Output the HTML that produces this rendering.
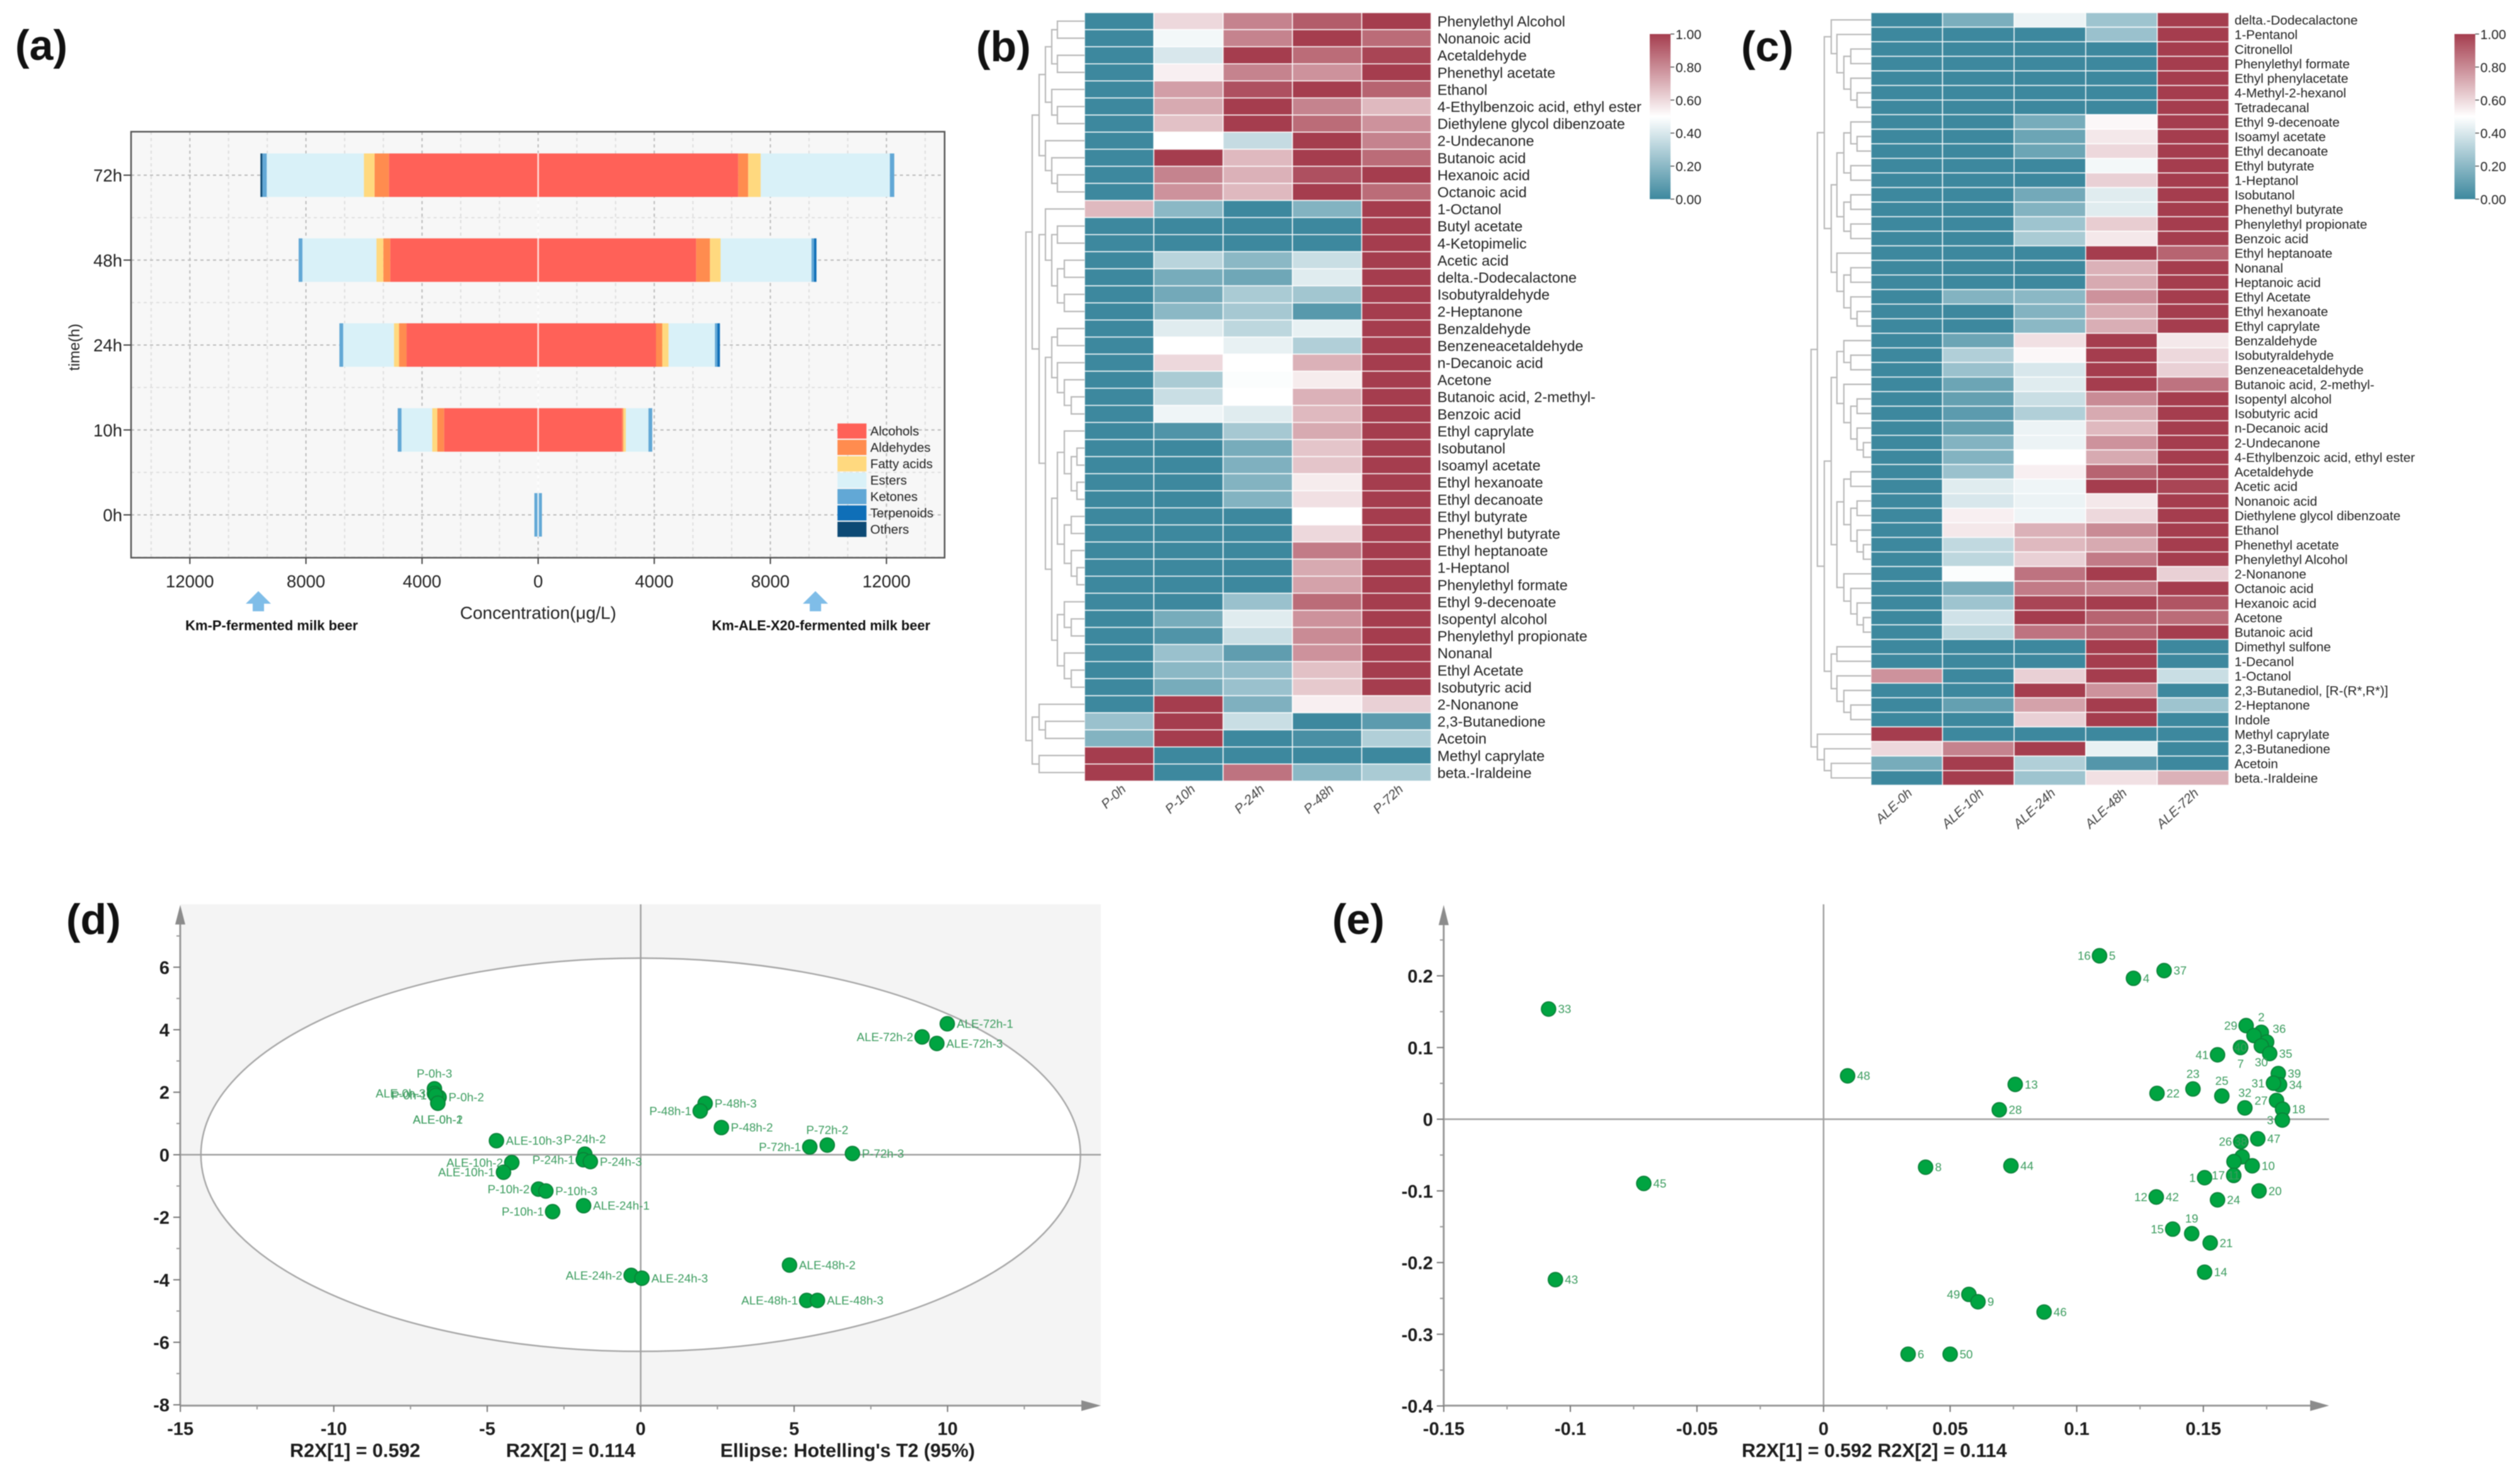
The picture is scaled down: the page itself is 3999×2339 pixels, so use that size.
<!DOCTYPE html>
<html lang="en"><head><meta charset="utf-8"><title>Volatile compounds figure</title>
<style>
html,body{margin:0;padding:0;background:#fff}
svg{display:block;font-family:"Liberation Sans",sans-serif;filter:blur(0.8px)}
.plab{font-weight:bold;font-size:68px;fill:#111}
.bt{font-weight:bold;font-size:30.4px;fill:#1c1c1c}
</style></head><body>
<svg id="fig" xmlns="http://www.w3.org/2000/svg" width="3999" height="2339" viewBox="0 0 3999 2339">
<defs><linearGradient id="cbGrad" x1="0" y1="1" x2="0" y2="0"><stop offset="0" stop-color="#3d889e"/><stop offset="0.5" stop-color="#ffffff"/><stop offset="1" stop-color="#a53d4e"/></linearGradient></defs>
<rect width="3999" height="2339" fill="#fff"/>
<text class="plab" x="24" y="95">(a)</text>
<text class="plab" x="1549" y="97">(b)</text>
<text class="plab" x="2763" y="97">(c)</text>
<text class="plab" x="105" y="1482">(d)</text>
<text class="plab" x="2114" y="1482">(e)</text>

<g id="panelA">
<rect x="208" y="209" width="1291" height="676" fill="#f7f7f7"/>
<g id="aGrid"></g>
<g id="aBars"></g>
<rect x="208" y="209" width="1291" height="676" fill="none" stroke="#555" stroke-width="2.5"/>
<g id="aAxes"></g>
<g id="aLegend"></g>
<text x="854" y="982" font-size="28" text-anchor="middle" fill="#222">Concentration(μg/L)</text>
<text transform="translate(126,551) rotate(-90)" font-size="24" text-anchor="middle" fill="#222">time(h)</text>
<polygon points="410,938 430,958 419,958 419,970 401,970 401,958 390,958" fill="#7fbde8"/>
<polygon points="1294,938 1314,958 1303,958 1303,970 1285,970 1285,958 1274,958" fill="#7fbde8"/>
<text x="431" y="1000" font-size="22" font-weight="bold" text-anchor="middle" fill="#111">Km-P-fermented milk beer</text>
<text x="1303" y="1000" font-size="21.8" font-weight="bold" text-anchor="middle" fill="#111">Km-ALE-X20-fermented milk beer</text>
</g>

<g id="panelB"></g>
<g id="panelC"></g>

<g id="panelD">
<rect x="286" y="1435" width="1461" height="796" fill="#f4f4f4"/>
<g id="dPlot"></g>
<polygon points="278,1467 286,1436 294,1467" fill="#8c8c8c"/>
<polygon points="1716,2222 1747,2230.5 1716,2239" fill="#8c8c8c"/>
<text class="bt" x="460" y="2312">R2X[1] = 0.592</text>
<text class="bt" x="803" y="2312">R2X[2] = 0.114</text>
<text class="bt" x="1143" y="2312">Ellipse: Hotelling's T2 (95%)</text>
</g>

<g id="panelE">
<g id="ePlot"></g>
<polygon points="2283,1468 2291,1436 2299,1468" fill="#8c8c8c"/>
<polygon points="3666,2222 3696,2230.5 3666,2239" fill="#8c8c8c"/>
<text class="bt" x="2764" y="2312">R2X[1] = 0.592 R2X[2] = 0.114</text>
</g>
</svg>
<script>
/* ---------- panel a data ---------- */
const aCategories=['72h','48h','24h','10h','0h'];
const aLegendNames=['Alcohols','Aldehydes','Fatty acids','Esters','Ketones','Terpenoids','Others'];
const aTickValues=[-12000,-8000,-4000,0,4000,8000,12000];
const aMinorValues=[-13333,-10667,-9333,-6667,-5333,-2667,-1333,1333,2667,5333,6667,9333,10667,13333];
const pAlcohols=[5140,5097,4536,3240,0];
const pAldehydes=[497,238,259,238,0];
const pFattyAcids=[367,238,173,173,0];
const pEsters=[3348,2549,1750,1058,0];
const pKetones=[151,130,130,130,130];
const pTerpenoids=[0,0,0,0,0];
const pOthers=[65,0,0,0,0];
const aleAlcohols=[6890,5443,4060,2894,0];
const aleAldehydes=[346,475,216,43,0];
const aleFattyAcids=[432,367,216,86,0];
const aleEsters=[4450,3132,1598,778,0];
const aleKetones=[151,86,86,130,130];
const aleTerpenoids=[0,86,86,0,0];
const aleOthers=[0,0,0,0,0];

/* ---------- panel b data ---------- */
const bColumns=['P-0h','P-10h','P-24h','P-48h','P-72h'];
const bCompounds=['Phenylethyl Alcohol','Nonanoic acid','Acetaldehyde','Phenethyl acetate','Ethanol','4-Ethylbenzoic acid, ethyl ester','Diethylene glycol dibenzoate','2-Undecanone','Butanoic acid','Hexanoic acid','Octanoic acid','1-Octanol','Butyl acetate','4-Ketopimelic','Acetic acid','delta.-Dodecalactone','Isobutyraldehyde','2-Heptanone','Benzaldehyde','Benzeneacetaldehyde','n-Decanoic acid','Acetone','Butanoic acid, 2-methyl-','Benzoic acid','Ethyl caprylate','Isobutanol','Isoamyl acetate','Ethyl hexanoate','Ethyl decanoate','Ethyl butyrate','Phenethyl butyrate','Ethyl heptanoate','1-Heptanol','Phenylethyl formate','Ethyl 9-decenoate','Isopentyl alcohol','Phenylethyl propionate','Nonanal','Ethyl Acetate','Isobutyric acid','2-Nonanone','2,3-Butanedione','Acetoin','Methyl caprylate','beta.-Iraldeine'];
const bValues=[[0,.6,.82,.92,1],[0,.47,.82,1,.88],[0,.4,1,.88,.98],[0,.54,.82,.78,1],[0,.75,.95,1,.9],[0,.72,1,.82,.68],[0,.66,1,.88,.78],[0,.5,.35,1,.82],[0,1,.68,1,.88],[0,.82,.7,.95,1],[0,.78,.68,1,.88],[.68,.2,0,.18,1],[0,0,0,0,1],[0,0,0,0,1],[0,.32,.2,.36,1],[0,.15,.13,.42,1],[0,.14,.28,.26,1],[0,.2,.27,.07,1],[0,.42,.33,.44,1],[0,.5,.44,.3,1],[0,.6,.5,.7,1],[0,.28,.49,.55,1],[0,.36,.5,.7,1],[0,.46,.42,.68,1],[0,.05,.27,.72,1],[0,0,.15,.65,1],[0,0,.17,.65,1],[0,0,.18,.55,1],[0,0,.18,.58,1],[0,0,0,.5,1],[0,0,0,.6,1],[0,0,0,.84,1],[0,0,0,.72,1],[0,0,0,.74,1],[0,0,.24,.88,1],[0,.15,.42,.78,1],[0,.05,.36,.8,1],[0,.24,.09,.78,1],[0,.2,.22,.66,1],[0,.15,.24,.64,1],[0,1,.17,.54,.62],[.24,1,.36,0,.08],[.18,1,0,.03,.3],[1,0,0,0,0],[1,0,.86,.2,.28]];
/* merge distance tree: [distance, child, child]; 0 is a leaf taken in row order */
const bTree=[93,[83,[72,[62,[52,[43,0,0],[43,0,0]],[52,0,[43,0,0]]],[62,0,[52,0,[43,0,0]]]],[72,[62,0,[52,[43,0,0],[43,[32,0,0],[32,0,0]]]],[62,[52,[43,0,0],[43,0,[32,0,[21,0,0]]]],[52,[43,[32,0,[21,[12,0,0],[12,0,0]]],[32,[21,0,0],[21,0,[12,0,0]]]],[43,[32,0,[21,0,0]],[32,0,[21,0,0]]]]]]],[83,[72,0,[62,0,0]],[72,0,0]]];

/* ---------- panel c data ---------- */
const cColumns=['ALE-0h','ALE-10h','ALE-24h','ALE-48h','ALE-72h'];
const cCompounds=['delta.-Dodecalactone','1-Pentanol','Citronellol','Phenylethyl formate','Ethyl phenylacetate','4-Methyl-2-hexanol','Tetradecanal','Ethyl 9-decenoate','Isoamyl acetate','Ethyl decanoate','Ethyl butyrate','1-Heptanol','Isobutanol','Phenethyl butyrate','Phenylethyl propionate','Benzoic acid','Ethyl heptanoate','Nonanal','Heptanoic acid','Ethyl Acetate','Ethyl hexanoate','Ethyl caprylate','Benzaldehyde','Isobutyraldehyde','Benzeneacetaldehyde','Butanoic acid, 2-methyl-','Isopentyl alcohol','Isobutyric acid','n-Decanoic acid','2-Undecanone','4-Ethylbenzoic acid, ethyl ester','Acetaldehyde','Acetic acid','Nonanoic acid','Diethylene glycol dibenzoate','Ethanol','Phenethyl acetate','Phenylethyl Alcohol','2-Nonanone','Octanoic acid','Hexanoic acid','Acetone','Butanoic acid','Dimethyl sulfone','1-Decanol','1-Octanol','2,3-Butanediol, [R-(R*,R*)]','2-Heptanone','Indole','Methyl caprylate','2,3-Butanedione','Acetoin','beta.-Iraldeine'];
const cValues=[[0,.16,.45,.25,1],[0,0,0,.24,1],[0,0,0,0,1],[0,0,0,0,1],[0,0,0,0,1],[0,0,0,0,1],[0,0,0,0,1],[0,0,.15,.52,1],[0,0,.12,.56,1],[0,0,.12,.6,1],[0,0,0,.47,1],[0,0,0,.62,1],[0,0,.14,.42,1],[0,0,.18,.42,1],[0,0,.25,.63,1],[0,0,.28,.56,1],[0,0,0,1,.9],[0,0,0,.7,1],[0,0,0,.72,1],[0,.18,.2,.78,1],[0,0,.18,.72,1],[0,0,.2,.71,1],[0,.12,.58,1,.56],[0,.3,.52,1,.6],[0,.24,.4,1,.62],[0,.12,.42,1,.86],[0,.1,.36,.8,1],[0,.08,.3,.72,1],[0,.1,.45,.68,1],[0,.18,.45,.78,1],[0,.18,.5,.72,1],[0,.24,.54,.9,1],[0,.42,.46,1,.98],[0,.4,.45,.56,1],[0,.54,.46,.6,1],[0,.56,.7,.8,1],[0,.34,.68,.72,1],[0,.33,.62,.84,1],[0,.49,.86,1,.62],[0,.16,.84,.82,1],[0,.25,.98,1,.94],[0,.38,1,.9,.88],[0,.33,.86,.9,1],[0,0,0,1,0],[0,0,0,1,0],[.78,0,.62,1,.36],[0,0,1,.78,0],[0,.1,.74,1,.25],[0,0,.62,1,0],[1,0,0,0,0],[.6,.82,1,.44,0],[.15,1,.3,.06,0],[0,1,.25,.58,.7]];
const cTree=[95,[85,[74,[63,0,[54,0,[43,[32,0,0],[32,0,[22,0,0]]]]],[63,[54,[43,[32,0,[22,0,0]],[32,0,0]],[43,[32,0,0],[32,0,0]]],[54,0,[43,[32,0,0],[32,0,[22,0,0]]]]]],[74,[63,[54,[43,0,[32,0,0]],[43,0,[32,[22,0,0],[22,0,[12,0,0]]]]],[54,[43,[32,0,0],[32,[22,0,0],[22,0,[12,0,0]]]],[43,0,[32,0,[22,0,[12,0,0]]]]]],[63,[54,0,0],[54,0,[43,0,[32,0,0]]]]]],[85,0,[74,0,[63,0,0]]]];
const cbTicks=[0,0.2,0.4,0.6,0.8,1];

/* ---------- panel d data ---------- */
const dNames=['P-0h-3','P-0h-2','ALE-0h-3','P-0h-1','ALE-0h-2','ALE-0h-1','ALE-10h-3','ALE-10h-2','ALE-10h-1','P-24h-2','P-24h-1','P-24h-3','P-10h-2','P-10h-3','P-10h-1','ALE-24h-1','ALE-24h-2','ALE-24h-3','ALE-72h-1','ALE-72h-2','ALE-72h-3','P-48h-3','P-48h-1','P-48h-2','P-72h-2','P-72h-1','P-72h-3','ALE-48h-2','ALE-48h-1','ALE-48h-3'];
const dT1=[-6.72,-6.57,-6.72,-6.68,-6.61,-6.61,-4.7,-4.2,-4.47,-1.82,-1.87,-1.64,-3.33,-3.09,-2.87,-1.86,-.31,.04,9.99,9.17,9.65,2.1,1.94,2.63,6.08,5.51,6.9,4.85,5.41,5.76];
const dT2=[2.11,1.84,1.96,1.9,1.65,1.65,.45,-.25,-.56,.02,-.16,-.22,-1.1,-1.16,-1.82,-1.63,-3.86,-3.95,4.19,3.77,3.56,1.64,1.4,.87,.31,.25,.04,-3.53,-4.66,-4.66];
const dSides=['t','r','l','l','b','b','r','l','l','t','l','r','l','r','l','r','l','r','r','l','r','r','l','r','t','l','r','r','l','r'];
const dXTicks=[-15,-10,-5,0,5,10];
const dXMinor=[-12.5,-7.5,-2.5,2.5,7.5,12.5];
const dYTicks=[-8,-6,-4,-2,0,2,4,6];
const dYMinor=[-7,-5,-3,-1,1,3,5,7];
const dEllipseAxes=[14.33,6.29];

/* ---------- panel e data ---------- */
const eNames=['33','48','45','43','8','16','5','4','37','29','2','','36','30','35','40','7','41','39','34','31','23','25','22','13','28','32','27','18','3','47','26','38','','','10','11','17','1','12','42','20','24','19','15','21','14','49','9','46','6','50','44'];
const eP1=[-.1086,.0095,-.071,-.1059,.0403,.109,.109,.1224,.1345,.1669,.1729,.17,.175,.1729,.1762,.1647,.1647,.1556,.1796,.1801,.1777,.1459,.1573,.1317,.0757,.0694,.1664,.1789,.1813,.1812,.1715,.1648,.1648,.1653,.1621,.1693,.162,.162,.1505,.1314,.1314,.172,.1556,.1454,.1379,.1527,.1505,.0574,.061,.0871,.0334,.05,.074];
const eP2=[.1537,.0605,-.0896,-.2238,-.067,.228,.228,.1966,.2073,.1306,.1212,.1167,.1077,.1023,.0916,.1001,.1001,.0898,.0637,.0481,.0503,.0422,.0324,.036,.0485,.0131,.0158,.0261,.014,-.0012,-.0273,-.0313,-.0313,-.0524,-.0591,-.065,-.0784,-.0784,-.0816,-.1085,-.1085,-.1,-.1125,-.1596,-.1533,-.1726,-.2134,-.2444,-.2547,-.269,-.3278,-.3278,-.065];
const eSides=['r','r','r','r','r','l','r','r','r','l','t','c','q','b','r','c','b','l','r','r','l','t','t','r','r','r','t','l','r','l','r','l','c','c','c','r','c','l','l','l','r','r','r','t','l','r','r','l','r','r','r','r','r'];
const eXTicks=[-.15,-.1,-.05,0,.05,.1,.15];
const eXMinor=[-.125,-.075,-.025,.025,.075,.125,.175];
const eYTicks=[-.4,-.3,-.2,-.1,0,.1,.2];
const eYMinor=[-.35,-.25,-.15,-.05,.05,.15,.25];

/* ---------- helpers ---------- */
const NS='http://www.w3.org/2000/svg';
function mk(tag,parent,attrs,txt){
  const el=document.createElementNS(NS,tag);
  for(const k in attrs)el.setAttribute(k,attrs[k]);
  if(txt!==undefined)el.textContent=txt;
  parent.appendChild(el);
  return el;
}
function byId(i){return document.getElementById(i);}

/* ---------- panel a ---------- */
const aColors=['#ff6158','#ff8c4f','#ffd97f','#d9f1f8','#62a8d6','#0f6fb8','#0d4a75'];
const aX=v=>854+v*0.04606;
const aY=i=>278+i*134.75;
const aGrid=byId('aGrid'),aBars=byId('aBars'),aAxes=byId('aAxes'),aLegend=byId('aLegend');
aMinorValues.forEach(v=>{
  const l=mk('line',aGrid,{x1:aX(v),x2:aX(v),y1:209,y2:885,stroke:'#dedede','stroke-width':2,'stroke-dasharray':'5 5'});
  
  
});
aTickValues.forEach(v=>{
  const l=mk('line',aGrid,{x1:aX(v),x2:aX(v),y1:209,y2:885,stroke:'#bbb','stroke-width':2,'stroke-dasharray':'5 5'});
  
  
  const t=mk('line',aAxes,{x1:aX(v),x2:aX(v),y1:885,y2:895,stroke:'#444','stroke-width':2});
  
  
  const s=mk('text',aAxes,{x:aX(v),y:932,'font-size':27.5,'text-anchor':'middle',fill:'#222'},String(Math.abs(v)));
  
  
});
aCategories.forEach((c,i)=>{
  const l=mk('line',aGrid,{x1:208,x2:1499,y1:aY(i),y2:aY(i),stroke:'#bbb','stroke-width':2,'stroke-dasharray':'5 5'});
  
  
  const m=mk('line',aGrid,{x1:208,x2:1499,y1:aY(i+.5),y2:aY(i+.5),stroke:'#e0e0e0','stroke-width':2,'stroke-dasharray':'5 5'});
  
  
  const t=mk('line',aAxes,{x1:196,x2:208,y1:aY(i),y2:aY(i),stroke:'#444','stroke-width':2});
  
  
  const s=mk('text',aAxes,{x:194,y:aY(i)+10,'font-size':27.5,'text-anchor':'end',fill:'#222'},c);
  
  
});
const pSeries=[pAlcohols,pAldehydes,pFattyAcids,pEsters,pKetones,pTerpenoids,pOthers];
const aleSeries=[aleAlcohols,aleAldehydes,aleFattyAcids,aleEsters,aleKetones,aleTerpenoids,aleOthers];
function drawStack(series,sign){
  aCategories.forEach((c,i)=>{
    let cum=0;
    series.forEach((arr,k)=>{
      const w=arr[i];
      if(w>0){
        const a=aX(sign*cum),b=aX(sign*(cum+w));
        const r=mk('rect',aBars,{x:Math.min(a,b),y:aY(i)-34.5,width:Math.abs(b-a),height:69,fill:aColors[k]});
        
        
      }
      cum+=w;
    });
  });
}
drawStack(pSeries,-1);
drawStack(aleSeries,1);
const aZero=mk('line',aBars,{x1:aX(0),x2:aX(0),y1:243,y2:852,stroke:'#fff','stroke-width':2.5,'stroke-opacity':.8});


aLegendNames.forEach((n,i)=>{
  const y=672+i*26;
  const r=mk('rect',aLegend,{x:1329,y:y,width:46,height:24,fill:aColors[i]});
  
  
  const t=mk('text',aLegend,{x:1381,y:y+19,'font-size':20.5,fill:'#222'},n);
  
  
});

/* ---------- heatmaps ---------- */
const lo=[61,136,158],hi=[165,61,78];
function cellColor(v){
  const c=v<.5?lo:hi,t=v<.5?v*2:(1-v)*2;
  return 'rgb('+c.map(q=>Math.round(q+(255-q)*t)).join(',')+')';
}
function heatmap(root,o){
  const rowH=(o.bottom-o.top)/o.rows.length;
  const colW=(o.right-o.left)/o.cols.length;
  const rowY=i=>o.top+i*rowH;
  const colX=j=>o.left+j*colW;
  o.values.forEach((row,i)=>{
    row.forEach((v,j)=>{
      const r=mk('rect',root,{x:colX(j),y:rowY(i),width:colW,height:rowH,fill:cellColor(v),stroke:'#fff','stroke-width':1.6,'stroke-opacity':.85});
      
      
    });
    const t=mk('text',root,{x:o.labelX,y:rowY(i)+rowH/2+o.font*.36,'font-size':o.font,fill:'#222'},o.rows[i]);
    
    
  });
  o.cols.forEach((c,j)=>{
    const cx=colX(j)+colW/2+o.colDx;
    const t=mk('text',root,{transform:'translate('+cx+','+o.colY+') rotate(-43)','font-size':21,'font-style':'italic','text-anchor':'end',fill:'#444'},c);
    
    
  });
  /* dendrogram */
  let leaf=0;
  function walk(node){
    if(node===0){
      const y=rowY(leaf)+rowH/2;leaf++;
      return {x:o.left,y:y};
    }
    const a=walk(node[1]),b=walk(node[2]);
    const x=o.left-node[0];
    const p=mk('path',root,{d:'M'+a.x+' '+a.y+'H'+x+'V'+b.y+'H'+b.x,fill:'none',stroke:'#b9b9b9','stroke-width':2.2});
    
    
    return {x:x,y:(a.y+b.y)/2};
  }
  walk(o.tree);
  /* colour bar */
  const bar=mk('rect',root,{x:o.barX,y:54,width:33,height:262,fill:'url(#cbGrad)'});
  
  
  cbTicks.forEach(v=>{
    const y=316-v*262;
    const k=mk('line',root,{x1:o.barX+33,x2:o.barX+39,y1:y,y2:y,stroke:'#555','stroke-width':1.5});
    
    
    const t=mk('text',root,{x:o.barX+41,y:y+8,'font-size':21,fill:'#222'},v.toFixed(2));
    
    
  });
}
heatmap(byId('panelB'),{rows:bCompounds,cols:bColumns,values:bValues,tree:bTree,left:1721,right:2271,top:20,bottom:1239.5,labelX:2281,font:23.4,colY:1254,colDx:12,barX:2618});
heatmap(byId('panelC'),{rows:cCompounds,cols:cColumns,values:cValues,tree:cTree,left:2969,right:3537,top:20,bottom:1246,labelX:3546,font:20.7,colY:1260,colDx:10,barX:3895});

/* ---------- scatter panels ---------- */
function scatter(root,o){
  const X=o.X,Y=o.Y;
  if(o.ellipse){
    const e=mk('ellipse',root,{cx:X(0),cy:Y(0),rx:Math.abs(X(o.ellipse[0])-X(0)),ry:Math.abs(Y(o.ellipse[1])-Y(0)),fill:'#fff',stroke:'#a8a8a8','stroke-width':2.5});
    
    
  }
  const z1=mk('line',root,{x1:X(0),x2:X(0),y1:1435,y2:o.axisY,stroke:'#a0a0a0','stroke-width':2.5});
  
  
  const z2=mk('line',root,{x1:o.axisX,x2:o.endX,y1:Y(0),y2:Y(0),stroke:'#a0a0a0','stroke-width':2.5});
  
  
  const ax=mk('line',root,{x1:o.axisX,x2:o.endX-20,y1:o.axisY,y2:o.axisY,stroke:'#999','stroke-width':3});
  
  
  const ay=mk('line',root,{x1:o.axisX,x2:o.axisX,y1:1450,y2:o.axisY,stroke:'#999','stroke-width':3});
  
  
  o.xTicks.forEach(v=>{
    const t=mk('line',root,{x1:X(v),x2:X(v),y1:o.axisY,y2:o.axisY+10,stroke:'#777','stroke-width':2});
    
    
    const s=mk('text',root,{x:X(v),y:2277,'font-size':29,'font-weight':'bold','text-anchor':'middle',fill:'#1c1c1c'},String(v));
    
    
  });
  o.xMinor.forEach(v=>{
    const t=mk('line',root,{x1:X(v),x2:X(v),y1:o.axisY,y2:o.axisY+6,stroke:'#999','stroke-width':2});
    
    
  });
  o.yTicks.forEach(v=>{
    const t=mk('line',root,{x1:o.axisX-11,x2:o.axisX,y1:Y(v),y2:Y(v),stroke:'#777','stroke-width':2});
    
    
    const s=mk('text',root,{x:o.axisX-17,y:Y(v)+10.5,'font-size':29,'font-weight':'bold','text-anchor':'end',fill:'#1c1c1c'},String(v));
    
    
  });
  o.yMinor.forEach(v=>{
    const t=mk('line',root,{x1:o.axisX-6,x2:o.axisX,y1:Y(v),y2:Y(v),stroke:'#999','stroke-width':2});
    
    
  });
  o.names.forEach((n,i)=>{
    const c=mk('circle',root,{cx:X(o.xs[i]),cy:Y(o.ys[i]),r:11.4,fill:'#00a441',stroke:'#0a8238','stroke-width':1.8});
    
    
  });
  o.names.forEach((n,i)=>{
    if(!n)return;
    const px=X(o.xs[i]),py=Y(o.ys[i]),side=o.sides[i];
    let x=px,y=py,anchor='middle';
    if(side==='r'){x=px+15;anchor='start';}
    else if(side==='l'){x=px-14;anchor='end';}
    else if(side==='t'){y=py-24;}
    else if(side==='b'){y=py+26;}
    else if(side==='q'){x=px+20;y=py-21;}
    const t=mk('text',root,{x:x,y:y+6.5,'font-size':18.8,'text-anchor':anchor,fill:'#3b9c5e'},n);
    
    
  });
}
scatter(byId('dPlot'),{X:v=>1016.7+v*48.7,Y:v=>1832.4-v*49.6,axisX:286,axisY:2230.5,endX:1747,xTicks:dXTicks,xMinor:dXMinor,yTicks:dYTicks,yMinor:dYMinor,names:dNames,xs:dT1,ys:dT2,sides:dSides,ellipse:dEllipseAxes});
scatter(byId('ePlot'),{X:v=>2893.8+v*4018,Y:v=>1776-v*1137.5,axisX:2291,axisY:2230.5,endX:3696,xTicks:eXTicks,xMinor:eXMinor,yTicks:eYTicks,yMinor:eYMinor,names:eNames,xs:eP1,ys:eP2,sides:eSides});
</script>
</body></html>
